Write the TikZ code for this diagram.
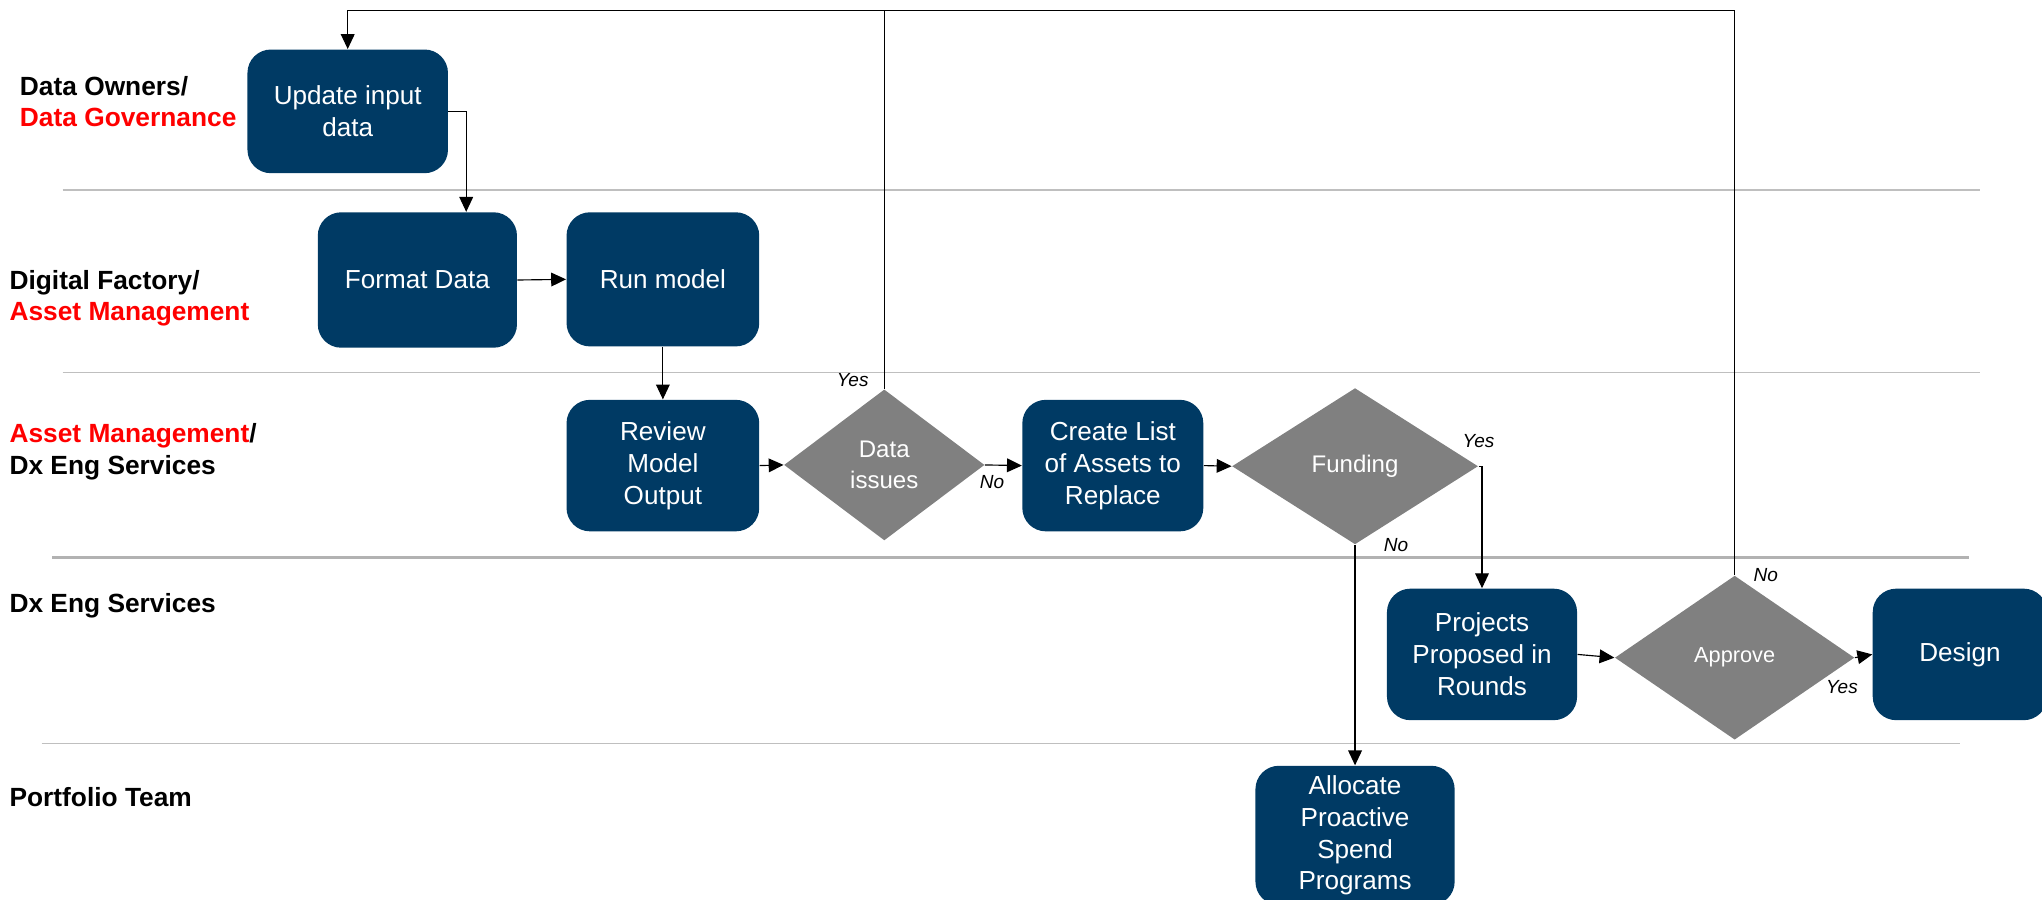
\documentclass[tikz,border=0pt]{standalone}
\usepackage{fontspec}
\setmainfont{Liberation Sans}
\usetikzlibrary{shapes.geometric, arrows.meta, positioning, calc}

\definecolor{boxblue}{RGB}{0,58,100}
\definecolor{decgray}{RGB}{128,128,128}
\definecolor{lanegray}{RGB}{191,191,191}

\begin{document}
\begin{tikzpicture}[
    x=0.02cm, y=-0.02cm,
    box/.style={rectangle, rounded corners=0.36cm, fill=boxblue, text=white, align=center, inner sep=2pt, font=\fontsize{11.4}{13.9}\selectfont},
    decision/.style={diamond, fill=decgray, text=white, align=center, inner sep=0pt, font=\fontsize{10.5}{13.7}\selectfont},
    arrow/.style={-{Triangle[length=6.5pt, width=6pt]}, line width=0.5pt, draw=black},
    lane/.style={draw=lanegray, line width=0.7pt},
    lanelabel/.style={anchor=west, align=left, inner sep=0pt, font=\bfseries\fontsize{11.5}{13.7}\selectfont},
    answer/.style={font=\itshape\fontsize{8.3}{10}\selectfont, inner sep=1pt}
  ]
    \useasboundingbox (0,0) rectangle (1568,691);

    % Swim lanes
    \draw[lane] (48,146) -- (1520,146);
    \draw[lane] (48,286) -- (1520,286);
    \draw[lane, line width=1.6pt, draw=gray!60] (40,428) -- (1512,428);
    \draw[lane] (32,571) -- (1505,571);

    \node[lanelabel] (ownerlane) at (15,78) {Data Owners/\\\textcolor{red}{Data Governance}};
    \node[lanelabel] (factorylane) at (7,229) {Digital Factory/\\\textcolor{red}{Asset Management}};
    \node[lanelabel] (assetlane) at (7,347) {\textcolor{red}{Asset Management}/\\Dx Eng Services};
    \node[lanelabel] (dxlane) at (7,465) {Dx Eng Services};
    \node[lanelabel] (portfoliolane) at (7,612) {Portfolio Team};

    % Nodes
    \node[box, minimum width=3.08cm, minimum height=1.9cm] (update) at (267,85.5) {Update input\\data};
    \node[box, minimum width=3.06cm, minimum height=2.08cm] (format) at (320.5,215) {Format Data};
    \node[box, minimum width=2.96cm, minimum height=2.06cm] (run) at (509,214.5) {Run model};
    \node[box, minimum width=2.96cm, minimum height=2.02cm] (review) at (509,357.5) {Review\\Model\\Output};
    \node[decision, minimum width=3.08cm, minimum height=2.32cm] (issues) at (679,357) {Data\\issues};
    \node[box, minimum width=2.78cm, minimum height=2.02cm] (create) at (854.5,357.5) {Create List\\of Assets to\\Replace};
    \node[decision, minimum width=3.78cm, minimum height=2.4cm] (funding) at (1040.5,358) {Funding};
    \node[box, minimum width=2.92cm, minimum height=2.02cm] (projects) at (1138,502.5) {Projects\\Proposed in\\Rounds};
    \node[decision, minimum width=3.68cm, minimum height=2.52cm, font=\fontsize{9.5}{12}\selectfont] (approve) at (1332,505) {Approve};
    \node[box, minimum width=2.68cm, minimum height=2.02cm] (design) at (1505,502.5) {Design};
    \node[box, minimum width=3.06cm, minimum height=2.14cm] (allocate) at (1040.5,641.5) {Allocate\\Proactive\\Spend\\Programs};

    \coordinate (looptop) at (0,8);

    % Connections
    \draw[arrow] (issues.north) -- (issues.north |- looptop) -| (update.north);
    \draw[line width=0.5pt] (approve.north) -- (approve.north |- looptop) -- (issues.north |- looptop);
    \draw[arrow] (update.east) -| ([xshift=0.75cm]format.north);
    \draw[arrow] (format.east) -- (run.west);
    \draw[arrow] (run.south) -- (review.north);
    \draw[arrow] (review.east) -- (issues.west);
    \draw[arrow] (issues.east) -- (create.west);
    \draw[arrow] (create.east) -- (funding.west);
    \draw[arrow] (funding.east) -| (projects.north);
    \draw[arrow] (funding.south) -- (allocate.north);
    \draw[arrow] (projects.east) -- (approve.west);
    \draw[arrow] (approve.east) -- (design.west);

    % Yes / No labels
    \node[answer, anchor=south east] (issuesyes) at ([xshift=-0.2cm]issues.north) {Yes};
    \node[answer, anchor=north west] (issuesno) at ([xshift=-0.12cm, yshift=-0.12cm]issues.east) {No};
    \node[answer, anchor=south] (fundingyes) at ([yshift=0.25cm]funding.east) {Yes};
    \node[answer, anchor=west] (fundingno) at ([xshift=0.4cm]funding.south) {No};
    \node[answer, anchor=west] (approveno) at ([xshift=0.25cm]approve.north) {No};
    \node[answer, anchor=north] (approveyes) at ([xshift=-0.2cm, yshift=-0.3cm]approve.east) {Yes};

  \end{tikzpicture}
\end{document}
